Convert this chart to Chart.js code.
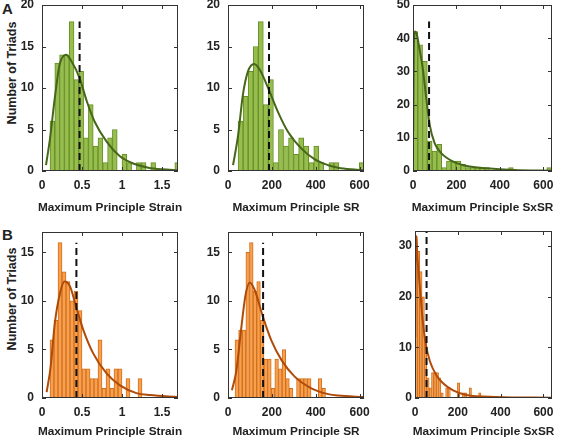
<!DOCTYPE html>
<html><head><meta charset="utf-8">
<script src="https://cdn.jsdelivr.net/npm/chart.js@4.4.0/dist/chart.umd.min.js"></script>
<style>
body{margin:0;width:568px;height:437px;overflow:hidden;background:#fff;position:relative;font-family:"Liberation Sans",Arial,sans-serif;}
canvas{position:absolute;}
.lbl{position:absolute;font-weight:bold;color:#222;font-size:15px;}
.yt{position:absolute;font-weight:bold;font-size:12.5px;color:#222;white-space:nowrap;transform:translate(-50%,-50%) rotate(-90deg);}
.xt{position:absolute;font-weight:bold;font-size:11.8px;color:#222;white-space:nowrap;transform:translate(-50%,-50%);}
</style></head><body>
<div class="lbl" style="left:2px;top:0px">A</div>
<div class="lbl" style="left:2px;top:226px">B</div>
<div class="yt" style="left:12px;top:73px">Number of Triads</div>
<div class="yt" style="left:12px;top:299px">Number of Triads</div>
<script>
// ---- tick labels ----
const xTicksStrain = [0, 0.5, 1, 1.5];
const xTicksSR = [0, 200, 400, 600];
const xTicksSxSR = [0, 200, 400, 600];
const yTicksA12 = [0, 5, 10, 15, 20];
const yTicksA3 = [0, 10, 20, 30, 40, 50];
const yTicksB12 = [0, 5, 10, 15];
const yTicksB3 = [0, 10, 20, 30];

// ---- x-axis titles ----
const titleStrain = 'Maximum Principle Strain';
const titleSR = 'Maximum Principle SR';
const titleSxSR = 'Maximum Principle SxSR';

// ---- histogram bins (start, width) and counts ----
const a1Bins = [0.10, 0.06];
const a1Counts = [6,13,14,14,18,11,12,4,8,3,4,1,4,5,0,2,1,0,1,1,0,1,0,0,0,0,1];
const a2Bins = [46, 23];
const a2Counts = [6,9,12,15,18,8,11,1,5,3,4,2,4,3,1,3,1,0,1,1,0,0,0,0,1];
const a3Bins = [0, 22];
const a3Counts = [42,38,33,9,6,8,1,3,3,3,2,1,1,1,1,1,0,0,0,0,1,0,0,0,0,0,0,0,1];
const b1Bins = [0.10, 0.05];
const b1Counts = [6,8,16,13,12,10,11,9,3,3,2,2,6,1,3,1,3,3,0,2,0,0,2];
const b2Bins = [32, 16.5];
const b2Counts = [6,7,7,15,16,11,12,8,4,4,1,4,3,5,2,1,0,2,2,2,2,0,0,2,1];
const b3Bins = [0, 11];
const b3Counts = [32,29,25,20,12,4,2,5,5,5,4,1,0,2,2,0,0,0,3,0,1,1,0,2,0,0,0,1];

// ---- fitted curves (x, y) ----
const a1Fit = [[0.05,0.7],[0.10,3.9],[0.16,8.8],[0.22,12.8],[0.30,14.0],[0.37,13.2],[0.47,11.2],[0.56,8.4],[0.66,5.9],[0.81,3.5],[0.97,1.8],[1.14,0.9],[1.33,0.4],[1.5,0.2],[1.7,0.1]];
const a2Fit = [[23,0.7],[46,4.3],[68,9.2],[91,12.0],[119,12.9],[145,12.2],[186,9.8],[228,7.1],[274,4.7],[335,2.7],[396,1.4],[457,0.7],[502,0.4],[560,0.2],[618,0.1]];
const a3Fit = [[1,12],[4,38],[10,42],[18,41],[28,37.5],[46,30.4],[62,21.4],[77,13.9],[100,8.3],[131,5.3],[185,2.8],[247,1.5],[340,0.8],[464,0.3],[640,0.1]];
const b1Fit = [[0.058,0.6],[0.108,3.2],[0.16,7.7],[0.225,10.8],[0.28,12.0],[0.35,11.5],[0.433,9.2],[0.517,7.0],[0.64,4.6],[0.81,2.5],[0.975,1.3],[1.18,0.5],[1.35,0.3],[1.7,0.1]];
const b2Fit = [[18,0.8],[38,2.8],[61,7.3],[79,10.5],[99,11.9],[122,11.1],[160,8.3],[198,5.9],[244,3.9],[304,2.2],[380,1.0],[457,0.4],[502,0.25],[620,0.1]];
const b3Fit = [[1,12],[3,30],[6,32],[11,28],[23,21.8],[35,15.8],[51,10.5],[70,7.2],[100,4.5],[131,2.9],[178,1.5],[240,0.6],[379,0.2],[640,0.05]];

// ---- dashed reference lines [x, top] ----
const a1Dash = [0.47, 18];
const a2Dash = [187, 18];
const a3Dash = [74, 45];
const b1Dash = [0.43, 16];
const b2Dash = [160, 16];
const b3Dash = [54, 33];

// ---- axis maxima ----
const xMaxStrain = 1.7, xMaxSR = 620, xMaxSxSR = 640;

const F = '"Liberation Sans", Arial, sans-serif';
const GREEN = {fill:'#97bd4f', edge:'#668f25', line:'#46661a'};
const ORANGE = {fill:'#f8a04e', edge:'#d0701e', line:'#b04a08'};

const boxPlugin = {
  id:'box',
  afterDatasetsDraw(chart){
    const {ctx, chartArea:a, scales:{x,y}} = chart;
    ctx.save();
    ctx.strokeStyle = '#333'; ctx.lineWidth = 1;
    ctx.strokeRect(Math.round(a.left)+0.5, Math.round(a.top)+0.5, Math.round(a.right-a.left)-1, Math.round(a.bottom-a.top)-1);
    ctx.beginPath();
    x.ticks.forEach(t=>{
      const px = Math.round(x.getPixelForValue(t.value))+0.5;
      ctx.moveTo(px,a.bottom); ctx.lineTo(px,a.bottom-4);
      ctx.moveTo(px,a.top); ctx.lineTo(px,a.top+4);
    });
    y.ticks.forEach(t=>{
      const py = Math.round(y.getPixelForValue(t.value))+0.5;
      ctx.moveTo(a.left,py); ctx.lineTo(a.left+4,py);
      ctx.moveTo(a.right,py); ctx.lineTo(a.right-4,py);
    });
    ctx.stroke();
    ctx.restore();
  }
};

function makePanel(p){
  const cv = document.createElement('canvas');
  const w = p.R - p.L + 46, h = p.B - p.T + 5 + 44;
  cv.width = w; cv.height = h;
  cv.style.left = (p.L - 40) + 'px';
  cv.style.top = (p.T - 5) + 'px';
  cv.style.width = w + 'px'; cv.style.height = h + 'px';
  document.body.appendChild(cv);
  const t = document.createElement('div');
  t.className = 'xt';
  t.textContent = p.title;
  t.style.left = ((p.L + p.R) / 2) + 'px';
  t.style.top = (p.B + p.tOff) + 'px';
  document.body.appendChild(t);
  const [start, width] = p.bins;
  const bars = p.counts.map((c,i)=>({x: start + width*(i+0.5), y: c}));
  const tickFont = {family:F, size:12, weight:'bold'};
  new Chart(cv, {
    type:'bar',
    data:{datasets:[
      {type:'line', data:p.fit.map(q=>({x:q[0], y:q[1]})), borderColor:p.col.line, borderWidth:2,
       pointRadius:0, fill:false, cubicInterpolationMode:'monotone', order:1},
      {type:'line', data:[{x:p.dash[0], y:0},{x:p.dash[0], y:p.dash[1]}], borderColor:'#111', borderWidth:2,
       borderDash:[7,4], pointRadius:0, fill:false, order:0},
      {type:'bar', data:bars, backgroundColor:p.col.fill, borderColor:p.col.edge, borderWidth:1,
       barPercentage:1, categoryPercentage:1, grouped:false, order:2}
    ]},
    options:{
      responsive:false, animation:false, events:[], devicePixelRatio:1,
      layout:{padding:{left:0, top:5, right:6, bottom:0}},
      plugins:{legend:{display:false}, tooltip:{enabled:false}},
      scales:{
        x:{type:'linear', min:0, max:p.xMax, offset:false,
           grid:{display:false, drawTicks:false, tickLength:0}, border:{display:false},
           ticks:{font:tickFont, color:'#222', padding:7, maxRotation:0, autoSkip:false, callback:v=>String(v)},
           afterBuildTicks:s=>{ s.ticks = p.xTicks.map(v=>({value:v})); },
           afterFit:s=>{ s.height = 44; s.paddingLeft = 0; s.paddingRight = 0; }
        },
        y:{type:'linear', min:0, max:p.yMax,
           grid:{display:false, drawTicks:false, tickLength:0}, border:{display:false},
           ticks:{font:tickFont, color:'#222', padding:p.yPad, callback:v=>String(v)},
           afterBuildTicks:s=>{ s.ticks = p.yTicks.map(v=>({value:v})); },
           afterFit:s=>{ s.width = 40; s.paddingTop = 0; s.paddingBottom = 0; }
        }
      }
    },
    plugins:[boxPlugin]
  });
}

makePanel({L:42, T:5, R:178, B:171, xMax:xMaxStrain, yMax:20, xTicks:xTicksStrain, yTicks:yTicksA12, bins:a1Bins, counts:a1Counts, fit:a1Fit, dash:a1Dash, col:GREEN, title:titleStrain, yPad:8, tOff:36});
makePanel({L:228, T:5, R:364, B:171, xMax:xMaxSR, yMax:20, xTicks:xTicksSR, yTicks:yTicksA12, bins:a2Bins, counts:a2Counts, fit:a2Fit, dash:a2Dash, col:GREEN, title:titleSR, yPad:8, tOff:36});
makePanel({L:413, T:5, R:552, B:171, xMax:xMaxSxSR, yMax:50, xTicks:xTicksSxSR, yTicks:yTicksA3, bins:a3Bins, counts:a3Counts, fit:a3Fit, dash:a3Dash, col:GREEN, title:titleSxSR, yPad:3, tOff:36});
makePanel({L:42, T:232, R:178, B:398, xMax:xMaxStrain, yMax:17.1, xTicks:xTicksStrain, yTicks:yTicksB12, bins:b1Bins, counts:b1Counts, fit:b1Fit, dash:b1Dash, col:ORANGE, title:titleStrain, yPad:8, tOff:33});
makePanel({L:228, T:232, R:364, B:398, xMax:xMaxSR, yMax:17.1, xTicks:xTicksSR, yTicks:yTicksB12, bins:b2Bins, counts:b2Counts, fit:b2Fit, dash:b2Dash, col:ORANGE, title:titleSR, yPad:8, tOff:33});
makePanel({L:415, T:231, R:552, B:398, xMax:xMaxSxSR, yMax:33, xTicks:xTicksSxSR, yTicks:yTicksB3, bins:b3Bins, counts:b3Counts, fit:b3Fit, dash:b3Dash, col:ORANGE, title:titleSxSR, yPad:3, tOff:33});
</script>
</body></html>
